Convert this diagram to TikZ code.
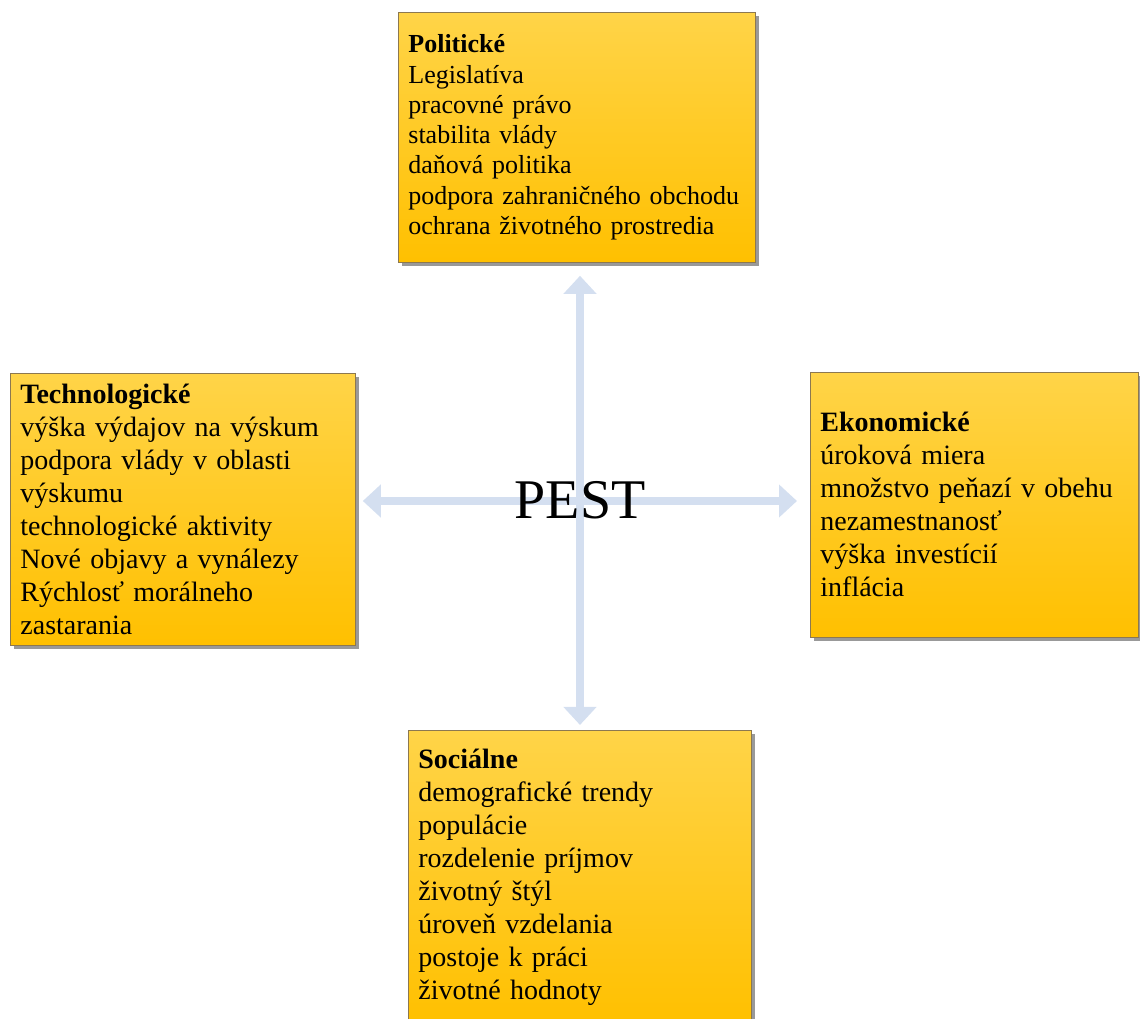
\documentclass[tikz,border=0pt]{standalone}
\usepackage{fontspec}
\setmainfont{Liberation Serif}
\usetikzlibrary{arrows.meta,positioning,shadows}

\definecolor{pestblue}{RGB}{212,223,240}
\definecolor{boxtop}{RGB}{255,212,72}
\definecolor{boxbottom}{RGB}{255,192,0}
\definecolor{boxline}{RGB}{140,120,80}

\begin{document}
\begin{tikzpicture}[
    x=0.75pt,
    y=-0.75pt,
    factor/.style={draw=boxline, line width=0.6pt, top color=boxtop, bottom color=boxbottom,
      drop shadow={shadow xshift=3pt, shadow yshift=-3pt, fill=black!40, opacity=1},
      anchor=north west, align=left, inner xsep=7.5pt, inner ysep=0pt,
      font=\fontsize{21}{24.75}\selectfont},
    small/.style={font=\fontsize{19.5}{22.7}\selectfont},
    spoke/.style={line width=6pt, pestblue, -{Triangle[width=24pt,length=13.5pt]}},
    title/.style={font=\fontsize{42}{50}\selectfont, inner sep=0pt}
  ]
    \useasboundingbox (0,0) rectangle (1140,1019);

    % factors
    \node[factor, small, text width=252.75pt, minimum height=187.5pt] (pol) at (398,12)
      {\textbf{Politické}\\Legislatíva\\pracovné právo\\stabilita vlády\\daňová politika\\
       podpora zahraničného obchodu\\ochrana životného prostredia};
    \node[factor, text width=243.75pt, minimum height=204pt] (tech) at (10,373)
      {\textbf{Technologické}\\výška výdajov na výskum\\podpora vlády v oblasti\\výskumu\\
       technologické aktivity\\Nové objavy a vynálezy\\Rýchlosť morálneho\\zastarania};
    \node[factor, text width=231pt, minimum height=198.75pt] (eko) at (810,372)
      {\textbf{Ekonomické}\\úroková miera\\množstvo peňazí v obehu\\nezamestnanosť\\
       výška investícií\\inflácia};
    \node[factor, text width=242.25pt, minimum height=220.5pt] (soc) at (408,730)
      {\textbf{Sociálne}\\demografické trendy\\populácie\\rozdelenie príjmov\\životný štýl\\
       úroveň vzdelania\\postoje k práci\\životné hodnoty};

    % arrows
    \coordinate (hub) at (580,501);
    \draw[spoke, shorten >=9.75pt] (hub) -- (hub |- pol.south);
    \draw[spoke, shorten >=3.75pt] (hub) -- (hub |- soc.north);
    \draw[spoke, shorten >=5.25pt] (hub) -- (hub -| tech.east);
    \draw[spoke, shorten >=9.75pt] (hub) -- (hub -| eko.west);

    \node[title] (pest) at (580,500) {PEST};
\end{tikzpicture}
\end{document}
